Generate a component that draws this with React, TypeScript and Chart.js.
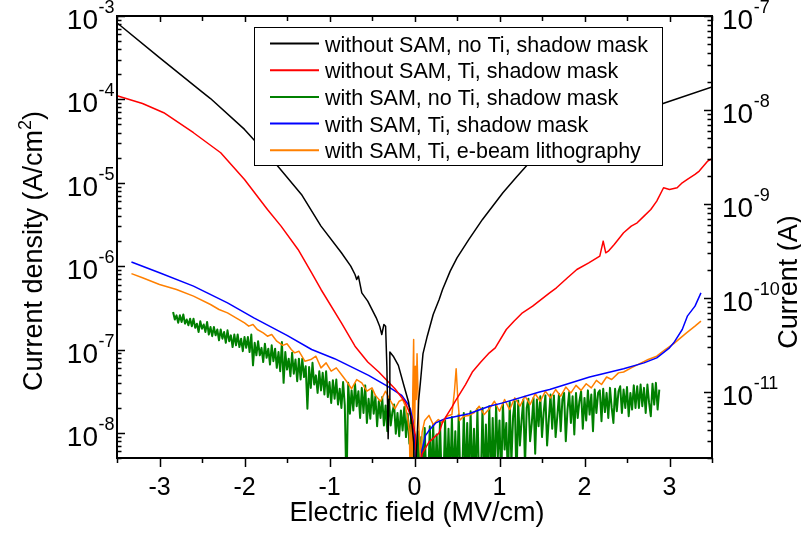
import React, { useEffect, useRef } from 'react';
import { Chart, registerables } from 'chart.js';

Chart.register(...registerables);

const FONT = "'Liberation Sans', Arial, Helvetica, sans-serif";

// ---------- axis ranges & tick labels ----------
const xMin = -3.5;
const xMax = 3.5;
const xTickValues = [-3, -2, -1, 0, 1, 2, 3];
const xMinorTickValues = [-3.5, -2.5, -1.5, -0.5, 0.5, 1.5, 2.5, 3.5];
const leftMin = 5e-9;
const leftMax = 1e-3;
const leftExponents = [-3, -4, -5, -6, -7, -8];
const rightMin = 2e-12;
const rightMax = 1e-7;
const rightExponents = [-7, -8, -9, -10, -11];

const xTitle = 'Electric field (MV/cm)';
const leftTitle = ['Current density (A/cm', '2', ')'];
const rightTitle = 'Current (A)';

// ---------- series (x in MV/cm, value = log10 of current density in A/cm²) ----------
const seriesNames = [
  'without SAM, no Ti, shadow mask',
  'without SAM, Ti, shadow mask',
  'with SAM, no Ti, shadow mask',
  'with SAM, Ti, shadow mask',
  'with SAM, Ti, e-beam lithography',
];
const seriesColors = ['#000000', '#ff0000', '#008000', '#0000ff', '#ff8000'];
const seriesWidths = [1.5, 1.5, 2, 1.5, 1.5];

const blackPts: [number, number][] = [
  [-3.49, -3.09], [-3.0, -3.5], [-2.5, -3.91], [-2.4, -3.99], [-2.0, -4.36], [-1.93, -4.44],
  [-1.61, -4.8], [-1.33, -5.14], [-1.1, -5.52], [-0.86, -5.84], [-0.75, -6.0], [-0.7, -6.1],
  [-0.68, -6.16], [-0.66, -6.12], [-0.62, -6.32], [-0.55, -6.42], [-0.45, -6.62], [-0.41, -6.72],
  [-0.385, -6.82], [-0.36, -6.7], [-0.34, -6.72], [-0.325, -7.2], [-0.31, -8.07], [-0.3, -7.6],
  [-0.29, -7.03], [-0.25, -7.08], [-0.19, -7.19], [-0.12, -7.45], [-0.07, -7.63], [-0.03, -7.9],
  [-0.01, -8.11], [0.0, -8.6], [0.02, -8.3], [0.03, -8.07], [0.05, -7.6], [0.07, -7.39],
  [0.1, -7.05], [0.15, -6.84], [0.22, -6.58], [0.29, -6.4], [0.33, -6.28], [0.42, -6.06],
  [0.5, -5.9], [0.64, -5.68], [0.8, -5.44], [1.04, -5.12], [1.2, -4.93], [1.35, -4.76],
  [1.6, -4.58], [2.0, -4.38], [2.5, -4.2], [2.95, -4.04], [3.5, -3.85],
];

const redPts: [number, number][] = [
  [-3.49, -3.96], [-3.2, -4.05], [-2.95, -4.16], [-2.6, -4.4], [-2.28, -4.64], [-2.0, -4.96],
  [-1.73, -5.32], [-1.57, -5.52], [-1.37, -5.8], [-1.21, -6.08], [-1.1, -6.28], [-0.86, -6.68],
  [-0.7, -6.96], [-0.55, -7.15], [-0.42, -7.27], [-0.23, -7.47], [-0.11, -7.63], [-0.03, -7.83],
  [0.01, -8.03], [0.03, -8.5], [0.06, -8.5], [0.09, -8.25], [0.17, -8.11], [0.29, -8.0],
  [0.33, -7.87], [0.44, -7.69], [0.48, -7.62], [0.6, -7.42], [0.68, -7.27], [0.78, -7.15],
  [0.88, -7.04], [0.95, -6.98], [1.08, -6.76], [1.17, -6.66], [1.27, -6.56], [1.39, -6.48],
  [1.59, -6.32], [1.67, -6.26], [1.8, -6.14], [1.91, -6.04], [2.05, -5.96], [2.18, -5.88],
  [2.22, -5.7], [2.25, -5.84], [2.28, -5.82], [2.35, -5.74], [2.46, -5.6], [2.55, -5.52],
  [2.62, -5.48], [2.7, -5.4], [2.78, -5.32], [2.85, -5.22], [2.93, -5.06], [3.0, -5.08],
  [3.09, -5.06], [3.15, -5.0], [3.21, -4.96], [3.3, -4.9], [3.35, -4.86], [3.45, -4.74],
  [3.52, -4.7],
];

const bluePts: [number, number][] = [
  [-3.33, -5.95], [-3.0, -6.08], [-2.6, -6.24], [-2.2, -6.44], [-1.89, -6.62], [-1.5, -6.83],
  [-1.21, -7.0], [-0.94, -7.11], [-0.54, -7.31], [-0.3, -7.45], [-0.15, -7.55], [-0.08, -7.65],
  [-0.05, -7.71], [-0.02, -7.85], [0.0, -8.03], [0.02, -8.5], [0.06, -8.5], [0.09, -8.2],
  [0.13, -8.03], [0.18, -7.96], [0.25, -7.88], [0.36, -7.83], [0.5, -7.8], [0.64, -7.77],
  [0.88, -7.68], [1.04, -7.64], [1.47, -7.51], [1.59, -7.48], [2.06, -7.33], [2.46, -7.23],
  [2.7, -7.16], [2.85, -7.1], [3.0, -6.98], [3.05, -6.92], [3.15, -6.76], [3.21, -6.6],
  [3.3, -6.48], [3.37, -6.32],
];

const orangePts: [number, number][] = [
  [-3.33, -6.09], [-3.2, -6.14], [-3.0, -6.22], [-2.8, -6.28], [-2.6, -6.36], [-2.4, -6.46],
  [-2.3, -6.52], [-2.2, -6.56], [-2.1, -6.62], [-2.0, -6.68], [-1.95, -6.72], [-1.9, -6.7],
  [-1.85, -6.76], [-1.78, -6.8], [-1.73, -6.84], [-1.68, -6.82], [-1.62, -6.9], [-1.55, -6.95],
  [-1.5, -6.93], [-1.45, -7.0], [-1.41, -7.04], [-1.36, -7.02], [-1.29, -7.14], [-1.22, -7.12],
  [-1.16, -7.08], [-1.1, -7.22], [-1.04, -7.16], [-0.98, -7.26], [-0.92, -7.22], [-0.86, -7.3],
  [-0.8, -7.38], [-0.74, -7.47], [-0.68, -7.36], [-0.62, -7.4], [-0.56, -7.5], [-0.5, -7.46],
  [-0.46, -7.55], [-0.4, -7.62], [-0.34, -7.5], [-0.28, -7.62], [-0.23, -7.71], [-0.18, -7.62],
  [-0.14, -7.6], [-0.11, -7.67], [-0.08, -7.82], [-0.06, -8.0], [-0.05, -8.6], [-0.04, -7.9],
  [-0.03, -8.6], [-0.02, -7.5], [-0.01, -6.88], [0.0, -8.2], [0.01, -7.2], [0.02, -7.6],
  [0.03, -7.05], [0.05, -7.9], [0.07, -8.3], [0.09, -7.99], [0.12, -7.85], [0.17, -7.79],
  [0.22, -7.9], [0.28, -7.84], [0.33, -7.88], [0.38, -7.8], [0.44, -7.78], [0.47, -7.5],
  [0.49, -7.23], [0.51, -7.6], [0.53, -7.85], [0.58, -7.8], [0.64, -7.79], [0.7, -7.76],
  [0.76, -7.68], [0.82, -7.78], [0.88, -7.71], [0.94, -7.62], [1.0, -7.74], [1.06, -7.6],
  [1.12, -7.72], [1.18, -7.58], [1.24, -7.68], [1.3, -7.56], [1.36, -7.66], [1.42, -7.53],
  [1.48, -7.62], [1.54, -7.5], [1.6, -7.58], [1.66, -7.48], [1.72, -7.56], [1.78, -7.45],
  [1.84, -7.52], [1.9, -7.43], [1.96, -7.49], [2.02, -7.41], [2.08, -7.46], [2.14, -7.37],
  [2.2, -7.42], [2.26, -7.33], [2.32, -7.36], [2.4, -7.28], [2.46, -7.27], [2.55, -7.22],
  [2.65, -7.17], [2.75, -7.12], [2.85, -7.08], [2.95, -7.0], [3.05, -6.93], [3.13, -6.86],
  [3.2, -6.8], [3.3, -6.72], [3.37, -6.66],
];

// noisy trace, read point by point (negative-field branch)
const greenNegPts: [number, number][] = [
  [-2.84, -6.55], [-2.82, -6.64], [-2.8, -6.59], [-2.78, -6.68], [-2.76, -6.59], [-2.74, -6.67],
  [-2.72, -6.58], [-2.7, -6.69], [-2.68, -6.64], [-2.66, -6.71],
  [-2.64, -6.63], [-2.62, -6.72], [-2.6, -6.63], [-2.58, -6.74], [-2.56, -6.69], [-2.54, -6.79],
  [-2.52, -6.66], [-2.5, -6.75], [-2.48, -6.7], [-2.46, -6.79],
  [-2.44, -6.67], [-2.42, -6.82], [-2.4, -6.73], [-2.38, -6.84], [-2.36, -6.73], [-2.34, -6.83],
  [-2.32, -6.76], [-2.3, -6.89], [-2.28, -6.76], [-2.26, -6.87],
  [-2.24, -6.79], [-2.22, -6.92], [-2.2, -6.77], [-2.18, -6.9], [-2.16, -6.83], [-2.14, -6.97],
  [-2.12, -6.82], [-2.1, -6.95], [-2.08, -6.82], [-2.06, -6.97],
  [-2.04, -6.87], [-2.02, -7.02], [-2.0, -6.85], [-1.98, -6.98], [-1.96, -6.85], [-1.94, -7.03],
  [-1.92, -6.82], [-1.9, -7.19], [-1.88, -6.92], [-1.86, -7.07],
  [-1.84, -6.9], [-1.82, -7.07], [-1.8, -6.98], [-1.78, -7.15], [-1.76, -6.93], [-1.74, -7.1],
  [-1.72, -6.99], [-1.7, -7.18], [-1.68, -6.95], [-1.66, -7.14],
  [-1.64, -6.99], [-1.62, -7.22], [-1.6, -7.03], [-1.58, -7.26], [-1.56, -6.91], [-1.54, -7.4],
  [-1.52, -7.03], [-1.5, -7.24], [-1.48, -7.11], [-1.46, -7.32],
  [-1.44, -7.04], [-1.42, -7.29], [-1.4, -7.12], [-1.38, -7.38], [-1.36, -7.11], [-1.34, -7.36],
  [-1.32, -7.11], [-1.3, -7.33], [-1.28, -7.2], [-1.26, -7.71],
  [-1.24, -7.21], [-1.22, -7.46], [-1.2, -7.16], [-1.18, -7.42], [-1.16, -7.31], [-1.14, -7.52],
  [-1.12, -7.26], [-1.1, -7.49], [-1.08, -7.28], [-1.06, -7.54],
  [-1.04, -7.26], [-1.02, -7.57], [-1.0, -7.39], [-0.98, -7.64], [-0.96, -7.37], [-0.94, -7.59],
  [-0.92, -7.36], [-0.9, -7.66], [-0.88, -7.47], [-0.86, -7.7],
  [-0.84, -7.39], [-0.82, -7.67], [-0.8, -8.7], [-0.78, -7.4], [-0.76, -7.77], [-0.74, -7.49],
  [-0.72, -7.73], [-0.7, -7.41], [-0.68, -7.68], [-0.66, -7.5],
  [-0.64, -7.82], [-0.62, -7.46], [-0.6, -7.76], [-0.58, -7.43], [-0.56, -7.88], [-0.54, -7.59],
  [-0.52, -7.83], [-0.5, -7.49], [-0.48, -7.77], [-0.46, -7.56],
  [-0.44, -7.92], [-0.42, -7.62], [-0.4, -7.82], [-0.38, -7.57], [-0.36, -7.91], [-0.34, -7.67],
  [-0.32, -7.98], [-0.3, -7.59], [-0.28, -7.91], [-0.26, -7.75],
  [-0.24, -7.66], [-0.22, -8.01], [-0.2, -7.76], [-0.18, -8.04], [-0.16, -7.73], [-0.14, -7.97],
  [-0.12, -7.69], [-0.1, -8.05], [-0.08, -7.77], [-0.06, -8.13],
  [-0.04, -7.8], [-0.02, -8.1], [0.0, -8.6],
];

// noisy trace, read point by point (positive-field branch)
const greenPosPts: [number, number][] = [
  [0.02, -8.6], [0.04, -7.98], [0.06, -8.6], [0.08, -8.05], [0.1, -8.6], [0.12, -7.94],
  [0.14, -8.6], [0.16, -8.6], [0.18, -7.92], [0.2, -8.6],
  [0.22, -7.9], [0.24, -8.6], [0.26, -8.02], [0.28, -8.6], [0.3, -7.86], [0.32, -8.6],
  [0.34, -8.6], [0.36, -7.85], [0.38, -8.6], [0.4, -7.95],
  [0.42, -8.6], [0.44, -7.81], [0.46, -8.6], [0.48, -7.98], [0.5, -8.6], [0.52, -7.78],
  [0.54, -8.6], [0.56, -8.6], [0.58, -7.76], [0.6, -8.6],
  [0.62, -7.88], [0.64, -8.6], [0.66, -7.74], [0.68, -8.6], [0.7, -7.95], [0.72, -8.6],
  [0.74, -7.71], [0.76, -8.6], [0.78, -8.6], [0.8, -7.7],
  [0.82, -8.6], [0.84, -7.9], [0.86, -8.6], [0.88, -7.68], [0.9, -8.6], [0.92, -7.82],
  [0.94, -8.6], [0.96, -7.66], [0.98, -8.3], [1.0, -7.85],
  [1.02, -8.6], [1.04, -7.64], [1.06, -8.2], [1.08, -7.88], [1.1, -8.6], [1.12, -7.63],
  [1.14, -8.35], [1.16, -7.8], [1.18, -7.62], [1.2, -8.6],
  [1.22, -7.61], [1.24, -8.15], [1.26, -7.85], [1.28, -7.6], [1.3, -8.4], [1.32, -7.7],
  [1.34, -7.59], [1.36, -8.1], [1.38, -7.88], [1.4, -7.58],
  [1.42, -8.25], [1.44, -7.6], [1.46, -7.92], [1.48, -7.56], [1.5, -8.05], [1.52, -7.75],
  [1.54, -7.55], [1.56, -8.15], [1.58, -7.84], [1.6, -7.54],
  [1.62, -7.95], [1.64, -7.55], [1.66, -8.05], [1.68, -7.8], [1.7, -7.53], [1.72, -7.98],
  [1.74, -7.6], [1.76, -7.52], [1.78, -8.1], [1.8, -7.72],
  [1.82, -7.51], [1.84, -7.88], [1.86, -7.56], [1.88, -8.02], [1.9, -7.52], [1.92, -7.82],
  [1.94, -7.62], [1.96, -7.5], [1.98, -7.95], [2.0, -7.58],
  [2.02, -7.85], [2.04, -7.49], [2.06, -7.78], [2.08, -7.54], [2.1, -7.98], [2.12, -7.48],
  [2.14, -7.76], [2.16, -7.52], [2.18, -7.49], [2.2, -7.86],
  [2.22, -7.47], [2.24, -7.75], [2.26, -7.52], [2.28, -7.82], [2.3, -7.46], [2.32, -7.7],
  [2.34, -7.88], [2.36, -7.47], [2.38, -7.74], [2.4, -7.5],
  [2.42, -7.44], [2.44, -7.76], [2.46, -7.48], [2.48, -7.7], [2.5, -7.45], [2.52, -7.8],
  [2.54, -7.52], [2.56, -7.72], [2.58, -7.43], [2.6, -7.7],
  [2.62, -7.44], [2.64, -7.7], [2.66, -7.42], [2.68, -7.68], [2.7, -7.46], [2.72, -7.76],
  [2.74, -7.42], [2.76, -7.64], [2.78, -7.8], [2.8, -7.41],
  [2.82, -7.66], [2.84, -7.4], [2.86, -7.72], [2.88, -7.48],
];

const greenPts: [number, number][] = [...greenNegPts, ...greenPosPts];

const seriesPoints = [blackPts, redPts, greenPts, bluePts, orangePts];
// drawing order: lower number drawn on top
const seriesOrder = [1, 2, 5, 3, 4];

const LABEL_BASE = 28;
const LABEL_SUP = 18;

function drawPow(ctx: CanvasRenderingContext2D, exp: number, x: number, y: number, align: 'left' | 'right') {
  const base = '10';
  const sup = String(exp);
  ctx.font = `${LABEL_BASE}px ${FONT}`;
  const bw = ctx.measureText(base).width;
  ctx.font = `${LABEL_SUP}px ${FONT}`;
  const sw = ctx.measureText(sup).width;
  const x0 = align === 'right' ? x - bw - sw : x;
  ctx.textAlign = 'left';
  ctx.textBaseline = 'alphabetic';
  ctx.font = `${LABEL_BASE}px ${FONT}`;
  ctx.fillText(base, x0, y + 13);
  ctx.font = `${LABEL_SUP}px ${FONT}`;
  ctx.fillText(sup, x0 + bw + 0.5, y - 3);
}

function minorLogValues(min: number, max: number): number[] {
  const out: number[] = [];
  for (let e = Math.floor(Math.log10(min)); e <= Math.ceil(Math.log10(max)); e++) {
    for (let m = 2; m <= 9; m++) {
      const v = m * Math.pow(10, e);
      if (v >= min * 0.999 && v <= max * 1.001) out.push(v);
    }
  }
  return out;
}

const decorPlugin = {
  id: 'decor',
  afterDatasetsDraw(chart: any) {
    const ctx: CanvasRenderingContext2D = chart.ctx;
    const { left, right, top, bottom } = chart.chartArea;
    const xs = chart.scales.x;
    const yl = chart.scales.y;
    const yr = chart.scales.y2;
    ctx.save();

    // legend box
    const lx = 254, ly = 27, lw = 408, lh = 138;
    ctx.fillStyle = '#ffffff';
    ctx.fillRect(lx, ly, lw, lh);
    ctx.strokeStyle = '#000000';
    ctx.lineWidth = 1;
    ctx.strokeRect(lx + 0.5, ly + 0.5, lw, lh);
    ctx.font = `21.5px ${FONT}`;
    ctx.textAlign = 'left';
    ctx.textBaseline = 'alphabetic';
    seriesNames.forEach((name, i) => {
      const yy = 43.5 + i * 26.7;
      ctx.strokeStyle = seriesColors[i];
      ctx.lineWidth = 2;
      ctx.beginPath();
      ctx.moveTo(270, yy);
      ctx.lineTo(319, yy);
      ctx.stroke();
      ctx.fillStyle = '#000000';
      ctx.fillText(name, 325, yy + 8);
    });

    // frame
    ctx.strokeStyle = '#000000';
    ctx.lineWidth = 2;
    ctx.strokeRect(left, top, right - left, bottom - top);

    ctx.lineWidth = 1.5;
    ctx.beginPath();
    // x ticks: bottom outward, top inward
    xTickValues.forEach((v) => {
      const px = Math.round(xs.getPixelForValue(v)) + 0.5;
      ctx.moveTo(px, bottom);
      ctx.lineTo(px, bottom + 9);
      ctx.moveTo(px, top);
      ctx.lineTo(px, top + 6);
    });
    xMinorTickValues.forEach((v) => {
      const px = Math.round(xs.getPixelForValue(v)) + 0.5;
      ctx.moveTo(px, bottom);
      ctx.lineTo(px, bottom + 5);
      ctx.moveTo(px, top);
      ctx.lineTo(px, top + 5);
    });
    // left y ticks (inward)
    leftExponents.forEach((e) => {
      const py = Math.round(yl.getPixelForValue(Math.pow(10, e))) + 0.5;
      ctx.moveTo(left, py);
      ctx.lineTo(left + 8, py);
    });
    minorLogValues(leftMin, leftMax).forEach((v) => {
      const py = Math.round(yl.getPixelForValue(v)) + 0.5;
      ctx.moveTo(left, py);
      ctx.lineTo(left + 4.5, py);
    });
    // right y ticks (inward)
    rightExponents.forEach((e) => {
      const py = Math.round(yr.getPixelForValue(Math.pow(10, e))) + 0.5;
      ctx.moveTo(right, py);
      ctx.lineTo(right - 8, py);
    });
    minorLogValues(rightMin, rightMax).forEach((v) => {
      const py = Math.round(yr.getPixelForValue(v)) + 0.5;
      ctx.moveTo(right, py);
      ctx.lineTo(right - 4.5, py);
    });
    ctx.stroke();

    // tick labels
    ctx.fillStyle = '#000000';
    ctx.font = `25px ${FONT}`;
    ctx.textAlign = 'center';
    ctx.textBaseline = 'alphabetic';
    xTickValues.forEach((v) => {
      ctx.fillText(String(v), xs.getPixelForValue(v), 495);
    });
    leftExponents.forEach((e) => {
      drawPow(ctx, e, left - 3, yl.getPixelForValue(Math.pow(10, e)), 'right');
    });
    rightExponents.forEach((e) => {
      drawPow(ctx, e, right + 10, yr.getPixelForValue(Math.pow(10, e)), 'left');
    });

    // axis titles
    ctx.font = `27px ${FONT}`;
    ctx.textAlign = 'center';
    ctx.fillText(xTitle, 417, 521);

    // left title, rotated
    ctx.save();
    ctx.translate(42, 251);
    ctx.rotate(-Math.PI / 2);
    ctx.textAlign = 'left';
    ctx.font = `27px ${FONT}`;
    const w1 = ctx.measureText(leftTitle[0]).width;
    const w3 = ctx.measureText(leftTitle[2]).width;
    ctx.font = `18px ${FONT}`;
    const w2 = ctx.measureText(leftTitle[1]).width;
    const total = w1 + w2 + w3;
    let cx = -total / 2;
    ctx.font = `27px ${FONT}`;
    ctx.fillText(leftTitle[0], cx, 0);
    cx += w1;
    ctx.font = `18px ${FONT}`;
    ctx.fillText(leftTitle[1], cx, -11);
    cx += w2;
    ctx.font = `27px ${FONT}`;
    ctx.fillText(leftTitle[2], cx, 0);
    ctx.restore();

    // right title, rotated
    ctx.save();
    ctx.translate(797, 282);
    ctx.rotate(-Math.PI / 2);
    ctx.textAlign = 'center';
    ctx.font = `27px ${FONT}`;
    ctx.fillText(rightTitle, 0, 0);
    ctx.restore();

    ctx.restore();
  },
};

export default function App() {
  const canvasRef = useRef<HTMLCanvasElement | null>(null);

  useEffect(() => {
    const canvas = canvasRef.current;
    if (!canvas) return;
    const datasets = seriesPoints.map((pts, i) => ({
      label: seriesNames[i],
      data: pts.map(([x, l]) => ({ x, y: Math.pow(10, l) })),
      borderColor: seriesColors[i],
      backgroundColor: seriesColors[i],
      borderWidth: seriesWidths[i],
      borderJoinStyle: 'round',
      pointRadius: 0,
      tension: 0,
      fill: false,
      yAxisID: 'y',
      order: seriesOrder[i],
    }));
    const chart = new Chart(canvas, {
      type: 'line',
      data: { datasets },
      options: {
        animation: false,
        responsive: false,
        devicePixelRatio: 1,
        layout: { padding: { top: 16, left: 0, right: 0, bottom: 0 } },
        plugins: {
          legend: { display: false },
          tooltip: { enabled: false },
          title: { display: false },
        },
        scales: {
          x: {
            type: 'linear',
            position: 'bottom',
            min: xMin,
            max: xMax,
            grid: { display: false },
            border: { display: false },
            ticks: { display: false },
            afterFit: (s: any) => { s.height = 75; },
          },
          y: {
            type: 'logarithmic',
            position: 'left',
            min: leftMin,
            max: leftMax,
            grid: { display: false },
            border: { display: false },
            ticks: { display: false },
            afterFit: (s: any) => { s.width = 117; },
          },
          y2: {
            type: 'logarithmic',
            position: 'right',
            min: rightMin,
            max: rightMax,
            grid: { display: false },
            border: { display: false },
            ticks: { display: false },
            afterFit: (s: any) => { s.width = 89; },
          },
        },
      } as any,
      plugins: [decorPlugin],
    });
    return () => chart.destroy();
  }, []);

  return (
    <div style={{ position: 'absolute', left: 0, top: 0, width: 801, height: 533, background: '#ffffff' }}>
      <canvas ref={canvasRef} width={801} height={533} style={{ display: 'block', width: 801, height: 533 }} />
    </div>
  );
}
